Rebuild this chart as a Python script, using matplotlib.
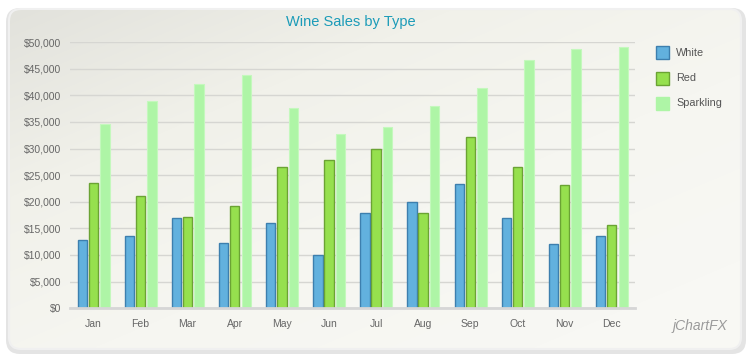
import numpy as np
import matplotlib
matplotlib.use("Agg")
import matplotlib.pyplot as plt
from matplotlib.patches import FancyBboxPatch, Rectangle
from matplotlib.colors import LinearSegmentedColormap
from matplotlib.ticker import FuncFormatter, MultipleLocator

months = ["Jan", "Feb", "Mar", "Apr", "May", "Jun",
          "Jul", "Aug", "Sep", "Oct", "Nov", "Dec"]
white = [12800, 13500, 16900, 12200, 16000, 10000,
         17900, 19900, 23300, 16900, 12000, 13500]
red = [23500, 21000, 17100, 19200, 26500, 27800,
       29900, 17900, 32100, 26500, 23100, 15600]
sparkling = [34600, 38900, 42100, 43800, 37600, 32700,
             34000, 38000, 41400, 46600, 48700, 49100]
series_names = ["White", "Red", "Sparkling"]

plt.rcParams["font.family"] = ["Liberation Sans", "DejaVu Sans"]

fig = plt.figure(figsize=(7.5, 3.6), dpi=100)
fig.patch.set_facecolor("white")

# background panel with soft gradient
bg = fig.add_axes([0, 0, 1, 1], zorder=-10)
bg.set_xlim(0, 750)
bg.set_ylim(360, 0)
bg.axis("off")
shadow = FancyBboxPatch((6, 8), 740, 346, boxstyle="round,pad=0,rounding_size=14",
                        facecolor="#e4e4e4", edgecolor="none", zorder=-2)
bg.add_patch(shadow)
panel = FancyBboxPatch((9, 9), 732, 340, boxstyle="round,pad=0,rounding_size=12",
                       facecolor="none", edgecolor="#f0f0f0", linewidth=1.5, zorder=1)
bg.add_patch(panel)
gx, gy = np.meshgrid(np.linspace(0, 1, 200), np.linspace(0, 1, 100))
grad = np.clip(0.55 * gx + 0.6 * gy, 0, 1)
cmap = LinearSegmentedColormap.from_list("bgc", ["#e2e2dc", "#f1f1ea", "#f6f6f1", "#f8f8f4"])
im = bg.imshow(grad, extent=(9, 741, 349, 9), cmap=cmap, vmin=0, vmax=1,
               aspect="auto", zorder=0, interpolation="bilinear")
im.set_clip_path(panel)

ax = fig.add_axes([0.093, 0.144, 0.754, 0.739])
ax.patch.set_alpha(0)
x = np.arange(len(months))
w = 0.2
ax.bar(x - 0.235, white, w, color="#62b1de", edgecolor="#3d7fae", linewidth=1, zorder=3)
ax.bar(x, red, w, color="#96e04e", edgecolor="#6ba334", linewidth=1, zorder=3)
ax.bar(x + 0.245, sparkling, w, color="#aef5a6", edgecolor="#c4f8bd", linewidth=0.8, zorder=3)

ax.set_xlim(-0.5, 11.5)
ax.set_ylim(0, 50000)
ax.yaxis.set_major_locator(MultipleLocator(5000))
ax.yaxis.set_major_formatter(FuncFormatter(lambda v, p: "${:,.0f}".format(v)))
ax.set_xticks(x)
ax.set_xticklabels(months)
ax.tick_params(axis="both", length=0, labelsize=7.5, labelcolor="#666666")
ax.tick_params(axis="x", pad=8)
ax.tick_params(axis="y", pad=6)
ax.grid(axis="y", color="#d6d6d2", linewidth=1, zorder=0)
ax.set_axisbelow(True)
for s in ["top", "right", "left"]:
    ax.spines[s].set_visible(False)
ax.spines["bottom"].set_color("#d6d6d6")
ax.spines["bottom"].set_linewidth(2)
ax.spines["bottom"].set_zorder(4)

fig.text(0.468, 0.938, "Wine Sales by Type", ha="center", va="center",
         fontsize=10.5, color="#1b9bb8")

# legend
leg_colors = [("#62b1de", "#3d7fae"), ("#96e04e", "#6ba334"), ("#aef5a6", "#aef5a6")]
for i, (name, (fc, ec)) in enumerate(zip(series_names, leg_colors)):
    yy = 46 + i * 25.5
    bg.add_patch(Rectangle((656, yy), 13, 13, facecolor=fc, edgecolor=ec, linewidth=1, zorder=5))
    bg.text(676, yy + 6.5, name, va="center", ha="left", fontsize=7.8, color="#555555", zorder=5)

bg.text(700, 326, "jChartFX", ha="center", va="center", fontsize=10,
        style="italic", color="#9a9a9a", zorder=5)

fig.savefig("out.png", dpi=100, facecolor="white")
